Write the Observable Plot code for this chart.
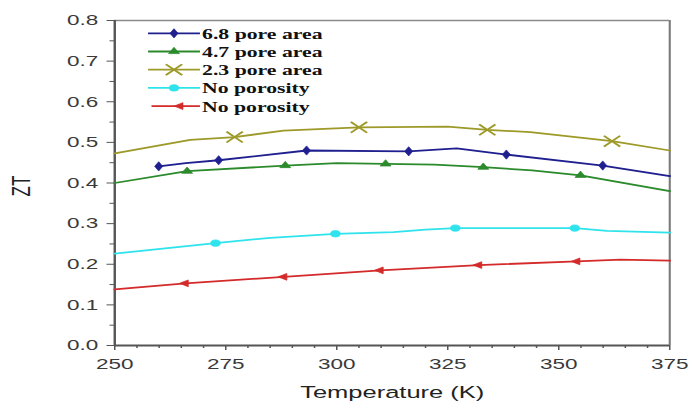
<!DOCTYPE html>
<html><head><meta charset="utf-8">
<script src="https://cdn.jsdelivr.net/npm/d3@7"></script>
<script src="https://cdn.jsdelivr.net/npm/@observablehq/plot@0.6"></script>
<style>html,body{margin:0;padding:0;background:#fff;} #chart svg{display:block}</style>
</head><body><div id="chart"></div>
<script>
// ---- data ----
const seriesKeys   = ["p68", "p47", "p23", "np1", "np2"];
const seriesLabels = ["6.8 pore area", "4.7 pore area", "2.3 pore area", "No porosity", "No porosity"];
const seriesColors = ["#1f1f8f", "#2b8a2b", "#9e9a2a", "#2fe3ec", "#d42a2a"];

const lineT68  = [259.9, 266, 273.4, 293.2, 316.2, 327, 338.2, 359.9, 375];
const lineZT68 = [0.441, 0.449, 0.456, 0.480, 0.478, 0.485, 0.470, 0.443, 0.417];
const markT68  = [259.9, 273.4, 293.2, 316.2, 338.2, 359.9];
const markZT68 = [0.441, 0.456, 0.480, 0.478, 0.470, 0.443];

const lineT47  = [250, 266.3, 288.4, 300, 311, 322, 333, 344, 354.9, 375];
const lineZT47 = [0.400, 0.429, 0.443, 0.449, 0.447, 0.445, 0.439, 0.431, 0.419, 0.380];
const markT47  = [266.3, 288.4, 311, 333, 354.9];
const markZT47 = [0.429, 0.443, 0.447, 0.439, 0.419];

const lineT23  = [250, 267, 277, 288, 305, 325, 333.9, 343.6, 362, 375];
const lineZT23 = [0.473, 0.506, 0.513, 0.529, 0.537, 0.539, 0.531, 0.525, 0.503, 0.480];
const markT23  = [277, 305, 333.9, 362];
const markZT23 = [0.513, 0.537, 0.531, 0.503];

const lineTnp1  = [250, 272.7, 285, 299.7, 312.8, 320, 326.7, 340, 353.6, 360.9, 375];
const lineZTnp1 = [0.226, 0.252, 0.265, 0.275, 0.279, 0.285, 0.289, 0.289, 0.289, 0.282, 0.278];
const markTnp1  = [272.7, 299.7, 326.7, 353.6];
const markZTnp1 = [0.252, 0.275, 0.289, 0.289];

const lineTnp2  = [250, 265.9, 288.1, 309.8, 332, 354.1, 363.9, 375];
const lineZTnp2 = [0.138, 0.153, 0.169, 0.185, 0.198, 0.207, 0.2115, 0.209];
const markTnp2  = [265.9, 288.1, 309.8, 332, 354.1];
const markZTnp2 = [0.153, 0.169, 0.185, 0.198, 0.207];

const xTicks = [250, 275, 300, 325, 350, 375];
const xMinorTicks = [255,260,265,270,280,285,290,295,305,310,315,320,330,335,340,345,355,360,365,370];
const yTicks = [0.0, 0.1, 0.2, 0.3, 0.4, 0.5, 0.6, 0.7, 0.8];
const yMinorTicks = [0.05, 0.15, 0.25, 0.35, 0.45, 0.55, 0.65, 0.75];

// ---- build tables ----
const lines = [
  [lineT68, lineZT68], [lineT47, lineZT47], [lineT23, lineZT23], [lineTnp1, lineZTnp1], [lineTnp2, lineZTnp2]
];
const marks = [
  [markT68, markZT68], [markT47, markZT47], [markT23, markZT23], [markTnp1, markZTnp1], [markTnp2, markZTnp2]
];
const symbolSpec = [
  {symbol: "diamond", r: 2.8, rotate: 0, fill: true},
  {symbol: "triangle", r: 2.7, rotate: 0, fill: true},
  {symbol: "times", r: 5, rotate: 0, fill: false},
  {symbol: "circle", r: 3.2, rotate: 0, fill: true},
  {symbol: "triangle", r: 2.5, rotate: -90, fill: true}
];

const lineRows = lines.flatMap(([ts, zs], i) => ts.map((t, j) => ({key: seriesKeys[i], T: t, ZT: zs[j]})));

const W = 460, H = 406; // drawn in a narrow frame and stretched 1.5x horizontally like the reference
const plotMarks = [
  Plot.axisY({ticks: yTicks, tickSize: 5, tickPadding: 6, tickFormat: d3.format(".1f"), label: null, stroke: "#555", fill: "#3a3a3a", fontSize: 15}),
  Plot.axisY({ticks: yMinorTicks, tickSize: 3, tickFormat: () => "", label: null, stroke: "#555"}),
  Plot.axisX({ticks: xTicks, tickSize: 5, tickPadding: 8, label: null, stroke: "#555", fill: "#3a3a3a", fontSize: 15}),
  Plot.axisX({ticks: xMinorTicks, tickSize: 3, tickFormat: () => "", label: null, stroke: "#555"}),
  Plot.ruleY([0.8], {stroke: "#8a8a8a", strokeWidth: 1.3}),
  Plot.ruleX([375], {stroke: "#7a7a7a", strokeWidth: 1.4}),
  Plot.ruleX([250], {stroke: "#555", strokeWidth: 1.6}),
  Plot.ruleY([0], {stroke: "#555", strokeWidth: 2}),
  Plot.line(lineRows, {x: "T", y: "ZT", z: "key", stroke: "key", strokeWidth: 1.8})
];
marks.forEach(([ts, zs], i) => {
  const s = symbolSpec[i];
  const rows = ts.map((t, j) => ({key: seriesKeys[i], T: t, ZT: zs[j]}));
  plotMarks.push(Plot.dot(rows, {
    x: "T", y: "ZT", symbol: () => s.symbol, r: s.r, rotate: s.rotate,
    fill: s.fill ? seriesColors[i] : "none", stroke: seriesColors[i], strokeWidth: s.fill ? 0.6 : 1.6
  }));
});

const plot = Plot.plot({
  width: W, height: H,
  marginLeft: 76, marginRight: 14, marginTop: 20, marginBottom: 61,
  x: {domain: [250, 375]},
  y: {domain: [0, 0.8]},
  color: {domain: seriesKeys, range: seriesColors},
  symbol: {domain: ["diamond","triangle","times","circle"], range: ["diamond","triangle","times","circle"]},
  style: {fontFamily: "'Liberation Sans', Arial, sans-serif", fontSize: "15px", background: "#fff", overflow: "visible"},
  marks: plotMarks
});

const svg = plot;
svg.setAttribute("width", 690);
svg.setAttribute("height", 406);
svg.setAttribute("viewBox", `0 0 ${W} ${H}`);
svg.setAttribute("preserveAspectRatio", "none");
svg.style.width = "690px";
svg.style.height = "406px";
svg.style.maxWidth = "none";

const g = d3.select(svg).append("g");
// axis titles
g.append("text").attr("transform", "translate(20,186) rotate(-90)")
  .attr("text-anchor", "middle").attr("font-family", "'Liberation Sans', Arial, sans-serif")
  .attr("font-size", 17).attr("fill", "#222").text("ZT");
g.append("text").attr("x", 261.5).attr("y", 398)
  .attr("text-anchor", "middle").attr("font-family", "'Liberation Sans', Arial, sans-serif")
  .attr("font-size", 17).attr("fill", "#222").text("Temperature (K)");

// legend
const legY0 = 33.3, legDY = 18.2;
const symMap = {diamond: d3.symbolDiamond, triangle: d3.symbolTriangle, times: d3.symbolTimes, circle: d3.symbolCircle};
seriesKeys.forEach((k, i) => {
  const y = legY0 + i * legDY;
  const s = symbolSpec[i];
  g.append("line").attr("x1", i === 4 ? 101 : 98.7).attr("x2", 133.3).attr("y1", y).attr("y2", y)
    .attr("stroke", seriesColors[i]).attr("stroke-width", 1.8);
  g.append("path").attr("d", d3.symbol(symMap[s.symbol], Math.PI * s.r * s.r)())
    .attr("transform", `translate(${i === 4 ? 120 : 116},${y}) rotate(${s.rotate})`)
    .attr("fill", s.fill ? seriesColors[i] : "none").attr("stroke", seriesColors[i])
    .attr("stroke-width", s.fill ? 0.6 : 1.6);
  g.append("text").attr("x", 134.7).attr("y", y + 5.5).attr("text-anchor", "start")
    .attr("font-family", "'Liberation Serif', 'Times New Roman', serif").attr("font-weight", "bold")
    .attr("font-size", 14.5).attr("fill", "#111").text(seriesLabels[i]);
});

document.getElementById("chart").appendChild(svg);
</script>
</body></html>
